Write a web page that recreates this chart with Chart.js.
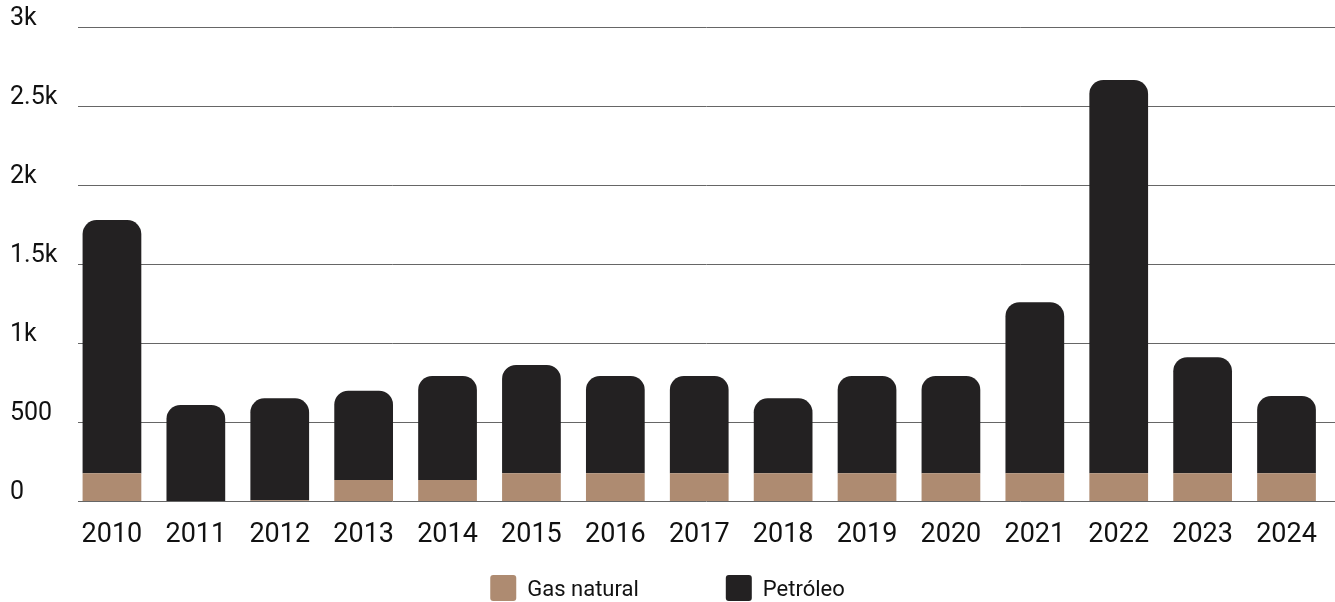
<!DOCTYPE html>
<html>
<head>
<meta charset="utf-8">
<script src="https://cdn.jsdelivr.net/npm/chart.js@4"></script>
<style>
  html, body { margin: 0; padding: 0; background: #fff; }
  #wrap { width: 1335px; height: 602px; position: relative; }
</style>
</head>
<body>
<div id="wrap"><canvas id="chart"></canvas></div>
<script>
// data
const years = ["2010", "2011", "2012", "2013", "2014", "2015", "2016", "2017", "2018", "2019", "2020", "2021", "2022", "2023", "2024"];
const gasNatural = [175, 0, 5, 133, 133, 175, 175, 175, 175, 175, 175, 175, 175, 175, 175];
const petroleo = [1603, 608, 645, 565, 658, 686, 616, 616, 475, 616, 616, 1083, 2490, 735, 490];
const yTicks = [0, 500, 1000, 1500, 2000, 2500, 3000];
const yTickLabels = ["0", "500", "1k", "1.5k", "2k", "2.5k", "3k"];

const gasColor = "#ae8b71";
const oilColor = "#232122";
const fontFam = "Roboto, 'Noto Sans', sans-serif";

// gridlines start a bit right of the plot edge like the original
const gridPlugin = {
  id: "customGrid",
  beforeDatasetsDraw(chart) {
    const { ctx } = chart;
    const y = chart.scales.y;
    ctx.save();
    ctx.strokeStyle = "#666";
    ctx.lineWidth = 1;
    yTicks.forEach(v => {
      const py = Math.round(y.getPixelForValue(v)) + 0.5;
      ctx.beginPath();
      ctx.moveTo(78, py);
      ctx.lineTo(chart.width, py);
      ctx.stroke();
    });
    ctx.restore();
  }
};

// legend with wide gap between the two items
const legendPlugin = {
  id: "bottomLegend",
  afterDraw(chart) {
    const { ctx } = chart;
    const items = chart.data.datasets.map(d => ({ text: d.label, color: d.backgroundColor }));
    const box = 26, gap = 11, itemGap = 87;
    ctx.save();
    ctx.font = "22px " + fontFam;
    let total = 0;
    items.forEach((it, i) => {
      it.w = ctx.measureText(it.text).width;
      total += box + gap + it.w + (i ? itemGap : 0);
    });
    let x = chart.width / 2 - total / 2;
    const top = 575;
    items.forEach((it, i) => {
      if (i) x += itemGap;
      ctx.fillStyle = it.color;
      ctx.beginPath();
      ctx.roundRect(x, top, box, box, 3);
      ctx.fill();
      x += box + gap;
      ctx.fillStyle = "#111";
      ctx.textBaseline = "middle";
      ctx.textAlign = "left";
      ctx.fillText(it.text, x, top + box / 2 + 2);
      x += it.w;
    });
    ctx.restore();
  }
};

new Chart(document.getElementById("chart"), {
  type: "bar",
  data: {
    labels: years,
    datasets: [
      {
        label: "Gas natural",
        data: gasNatural,
        backgroundColor: gasColor,
        borderWidth: 0,
        borderRadius: 0
      },
      {
        label: "Petróleo",
        data: petroleo,
        backgroundColor: oilColor,
        borderWidth: 0,
        borderSkipped: false,
        borderRadius: { topLeft: 14, topRight: 14, bottomLeft: 0, bottomRight: 0 }
      }
    ]
  },
  options: {
    responsive: true,
    maintainAspectRatio: false,
    animation: false,
    layout: { padding: { left: 10, right: 4, top: 27, bottom: 46 } },
    plugins: {
      legend: { display: false },
      tooltip: { enabled: false }
    },
    datasets: {
      bar: { categoryPercentage: 1, barPercentage: 0.7 }
    },
    scales: {
      x: {
        stacked: true,
        grid: { display: false, drawTicks: false },
        border: { display: false },
        ticks: {
          color: "#111",
          font: { family: fontFam, size: 27 },
          padding: 18,
          maxRotation: 0
        },
        afterFit(scale) { scale.height = 55; }
      },
      y: {
        stacked: true,
        min: 0,
        max: 3000,
        grid: { display: false, drawTicks: false },
        border: { display: false },
        afterBuildTicks(scale) {
          scale.ticks = yTicks.map(v => ({ value: v }));
        },
        ticks: {
          color: "#111",
          font: { family: fontFam, size: 25 },
          crossAlign: "far",
          labelOffset: -8,
          callback: (v) => yTickLabels[yTicks.indexOf(v)]
        },
        afterFit(scale) { scale.width = 60; }
      }
    }
  },
  plugins: [gridPlugin, legendPlugin]
});
</script>
</body>
</html>
